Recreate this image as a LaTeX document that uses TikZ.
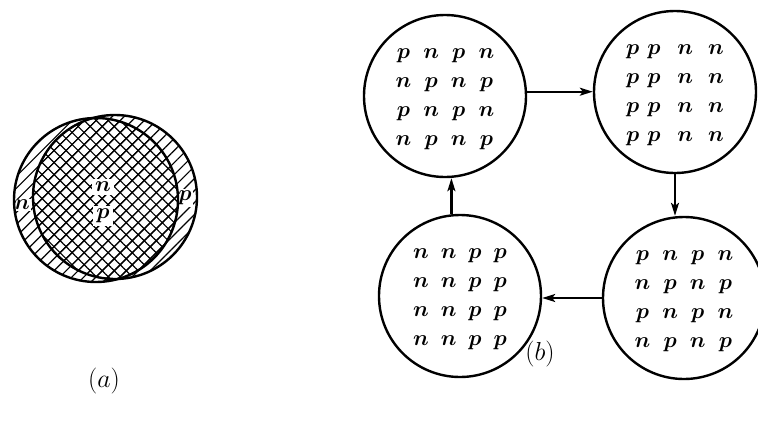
\documentclass[tikz,border=0pt]{standalone}
\usepackage{fix-cm}
\usetikzlibrary{patterns.meta,arrows.meta}
\begin{document}
\begin{tikzpicture}[x=1pt,y=-1pt,
  state/.style={circle, draw, line width=2.4pt, minimum size=162pt, inner sep=0pt,
    font=\boldmath\fontsize{22}{29}\selectfont},
  link/.style={line width=2.2pt, -{Stealth[length=13pt,width=8pt,inset=3pt]}},
  lbl/.style={font=\boldmath\fontsize{22}{26}\selectfont, inner sep=1.5pt},
  caption/.style={font=\fontsize{26}{30}\selectfont},
  hatchA/.style={pattern={Lines[angle=45,distance=8.5pt,line width=1.2pt]}},
  hatchB/.style={pattern={Lines[angle=-45,distance=8.5pt,line width=1.2pt]}},
]
\useasboundingbox (0,0) rectangle (758,421);

% ---------- (a) ----------
\fill[hatchA] (96,200) circle (82pt);
\fill[hatchA] (115,197) circle (82pt);
\begin{scope}
  \clip (96,200) circle (82pt);
  \fill[hatchB] (115,197) circle (82pt);
\end{scope}
\node[lbl, fill=white, inner sep=3pt] (an) at (103,187) {$n$};
\node[lbl, fill=white, inner sep=3pt] (ap) at (103,216) {$p$};
\node[lbl, fill=white] (ln) at (22,205) {$n$};
\node[lbl, fill=white] (lp) at (185,198) {$p$};
\draw[line width=2.4pt] (96,200) circle (82pt);
\draw[line width=2.4pt] (115,197) circle (82pt);
\node[caption] (capa) at (104,381) {$(a)$};

% ---------- (b) ----------
\node[state] (tl) at (445,96) {\begin{tabular}{@{}c@{\hspace{12pt}}c@{\hspace{12pt}}c@{\hspace{12pt}}c@{}}
$p$&$n$&$p$&$n$\\ $n$&$p$&$n$&$p$\\ $p$&$n$&$p$&$n$\\ $n$&$p$&$n$&$p$\end{tabular}};
\node[state] (tr) at (675,92) {\begin{tabular}{@{}c@{\hspace{8pt}}c@{\hspace{17pt}}c@{\hspace{15pt}}c@{}}
$p$&$p$&$n$&$n$\\ $p$&$p$&$n$&$n$\\ $p$&$p$&$n$&$n$\\ $p$&$p$&$n$&$n$\end{tabular}};
\node[state] (br) at (684,298) {\begin{tabular}{@{}c@{\hspace{12pt}}c@{\hspace{12pt}}c@{\hspace{12pt}}c@{}}
$p$&$n$&$p$&$n$\\ $n$&$p$&$n$&$p$\\ $p$&$n$&$p$&$n$\\ $n$&$p$&$n$&$p$\end{tabular}};
\node[state] (bl) at (460,296) {\begin{tabular}{@{}c@{\hspace{12pt}}c@{\hspace{12pt}}c@{\hspace{12pt}}c@{}}
$n$&$n$&$p$&$p$\\ $n$&$n$&$p$&$p$\\ $n$&$n$&$p$&$p$\\ $n$&$n$&$p$&$p$\end{tabular}};

\draw[link] (tl.3) -- (tl.3 -| tr.west);
\draw[link] (tr.south) -- (tr.south |- br.north);
\draw[link] (br.west) -- (br.west -| bl.east);
\draw[link] (bl.96) -- (bl.96 |- tl.south);

\node[caption] (capb) at (540,354) {$(b)$};
\end{tikzpicture}
\end{document}
